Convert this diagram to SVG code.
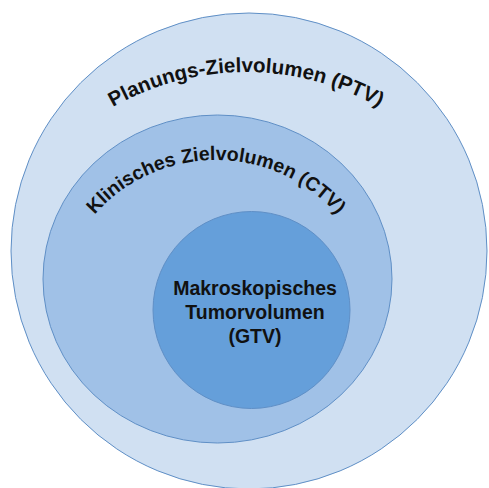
<svg xmlns="http://www.w3.org/2000/svg" width="489" height="488" viewBox="0 0 489 488">
<style>
.ring{stroke:#5f8fc6;stroke-width:1}
.lbl{font-family:"Liberation Sans",Arial,sans-serif;font-weight:bold;fill:#111;}
</style>
<defs>
<path id="arcPTV" d="M 12.2 207 A 270 270 0 0 1 479.8 207" fill="none"/>
<path id="arcCTV" d="M 75.7 241 A 162 162 0 0 1 356.3 241" fill="none"/>
</defs>
<rect width="489" height="488" fill="#ffffff"/>
<g id="ptv">
<circle class="ring" cx="249" cy="251" r="238" fill="#d0e0f2"/>
<text class="lbl" font-size="20.5"><textPath href="#arcPTV" startOffset="50%" text-anchor="middle">Planungs-Zielvolumen (PTV)</textPath></text>
</g>
<g id="ctv">
<ellipse class="ring" cx="217.5" cy="279" rx="174.5" ry="164" fill="#a0c1e7"/>
<text class="lbl" font-size="19.5"><textPath href="#arcCTV" startOffset="50%" text-anchor="middle">Klinisches Zielvolumen (CTV)</textPath></text>
</g>
<g id="gtv">
<circle class="ring" cx="251.5" cy="310" r="98.5" fill="#659fda"/>
<text class="lbl" font-size="19.5" text-anchor="middle"><tspan x="255" y="294.5">Makroskopisches</tspan><tspan x="255" y="318.5">Tumorvolumen</tspan><tspan x="255" y="343">(GTV)</tspan></text>
</g>
<g id="connectors"/>
</svg>
